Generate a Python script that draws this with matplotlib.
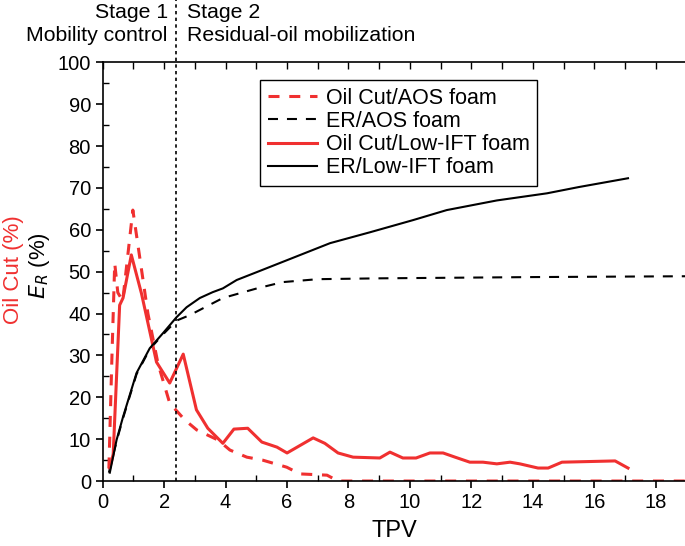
import matplotlib.pyplot as plt
from matplotlib.ticker import MultipleLocator

plt.rcParams["font.family"] = ["Liberation Sans", "DejaVu Sans"]

# Oil cut, low-IFT foam (red solid)
oc_ift_x = [0.23, 0.34, 0.55, 0.66, 0.93, 1.26, 1.75, 2.18, 2.62, 3.05, 3.42, 3.91,
            4.27, 4.72, 5.18, 5.67, 6.0, 6.85, 7.23, 7.66, 8.15, 9.02, 9.35, 9.77,
            10.2, 10.65, 11.08, 11.47, 11.95, 12.38, 12.83, 13.26, 13.58, 14.17,
            14.5, 14.95, 16.68, 17.1]
oc_ift_y = [3.1, 6.4, 42, 43.7, 54, 44.8, 28.4, 23.4, 30.3, 17, 12.6, 9,
            12.4, 12.6, 9.3, 8.1, 6.7, 10.3, 9, 6.7, 5.7, 5.5, 6.9, 5.5,
            5.5, 6.7, 6.7, 5.7, 4.5, 4.5, 4.1, 4.5, 4.1, 3.1,
            3.1, 4.5, 4.8, 3.1]

# Oil cut, AOS foam (red dashed)
oc_aos_x = [0.2, 0.3, 0.39, 0.49, 0.65, 0.98, 1.47, 1.8, 2.18, 2.67, 3.06, 3.75,
            4.14, 4.69, 5.2, 5.99, 6.42, 7.3, 7.66, 19.0]
oc_aos_y = [3, 30, 52, 45, 43, 64.7, 40, 28, 18.6, 14.6, 12.2, 9.8,
            7.4, 5.7, 5, 3.3, 1.7, 1.4, 0, 0]

# Recovery, low-IFT foam (black solid)
er_ift_x = [0.23, 0.45, 0.66, 1.1, 1.53, 1.96, 2.4, 2.73, 3.16, 3.58, 3.91, 4.36,
            5.02, 6.09, 7.4, 8.7, 10.1, 11.2, 12.83, 14.46, 15.5, 17.1]
er_ift_y = [2, 9.8, 15.3, 25.8, 31.7, 35.3, 39.1, 41.5, 43.7, 45.1, 46, 48,
            49.9, 53, 56.8, 59.4, 62.3, 64.7, 67, 68.7, 70.2, 72.3]

# Recovery, AOS foam (black dashed)
er_aos_x = [0.2, 0.45, 0.66, 1.1, 1.53, 1.96, 2.4, 2.83, 3.91, 5.02, 5.86, 7.0,
            9.0, 14.0, 19.0]
er_aos_y = [2, 9.5, 15, 25.5, 31.5, 35, 38.3, 39.6, 43.7, 46, 47.5, 48.2,
            48.4, 48.7, 48.9]

stage_split = 2.4

fig = plt.figure(figsize=(6.85, 5.46), dpi=100)
ax = fig.add_axes([0.150, 0.119, 0.852, 0.767])

red = "#f03030"
ax.plot(oc_aos_x, oc_aos_y, color=red, ls=(0, (3.6, 3.2)), lw=2.2, label="Oil Cut/AOS foam")
ax.plot(er_aos_x, er_aos_y, color="black", ls=(0, (4.8, 4.3)), lw=1.5, label="ER/AOS foam")
ax.plot(oc_ift_x, oc_ift_y, color=red, lw=2.2, label="Oil Cut/Low-IFT foam")
ax.plot(er_ift_x, er_ift_y, color="black", lw=1.5, label="ER/Low-IFT foam")

# stage divider, running up through the stage labels
ax.axvline(stage_split, ymin=0, ymax=1.17, color="black", ls=(0, (2, 2)), lw=1.2,
           clip_on=False)

ax.set_xlim(0, 19)
ax.set_ylim(0, 100)
ax.xaxis.set_major_locator(MultipleLocator(2))
ax.xaxis.set_minor_locator(MultipleLocator(1))
ax.yaxis.set_major_locator(MultipleLocator(10))
ax.yaxis.set_minor_locator(MultipleLocator(5))
ax.tick_params(which="major", direction="out", length=5, width=1.2, labelsize=14.5)
ax.tick_params(which="minor", direction="in", length=4, width=1.0)
ax.tick_params(axis="x", which="both", top=False)
ax.spines["right"].set_visible(False)
for s in ("left", "bottom", "top"):
    ax.spines[s].set_linewidth(1.2)

# inward ticks along the top spine
top = ax.secondary_xaxis("top")
top.xaxis.set_major_locator(MultipleLocator(1))
top.tick_params(direction="in", length=5, width=1.0, labeltop=False)
top.spines["top"].set_visible(False)

ax.set_xlabel("TPV", fontsize=17, labelpad=6)
fig.text(0.019, 0.507, "Oil Cut (%)", color=red, rotation=90, fontsize=16,
         ha="center", va="center")
fig.text(0.058, 0.513, "$E_R$ (%)", color="black", rotation=90, fontsize=16,
         ha="center", va="center")

fig.text(0.245, 0.978, "Stage 1", fontsize=15.3, ha="right", va="center")
fig.text(0.245, 0.935, "Mobility control", fontsize=15.3, ha="right", va="center")
fig.text(0.273, 0.978, "Stage 2", fontsize=15.3, ha="left", va="center")
fig.text(0.273, 0.935, "Residual-oil mobilization", fontsize=15.3, ha="left", va="center")

leg = ax.legend(loc="upper left", bbox_to_anchor=(0.270, 0.957), fontsize=15.5,
                frameon=True, fancybox=False, edgecolor="black", framealpha=1,
                handlelength=2.3, handletextpad=0.4, labelspacing=0.1,
                borderpad=0.35, borderaxespad=0)
leg.get_frame().set_linewidth(1.0)

fig.savefig("out.png", dpi=100)
